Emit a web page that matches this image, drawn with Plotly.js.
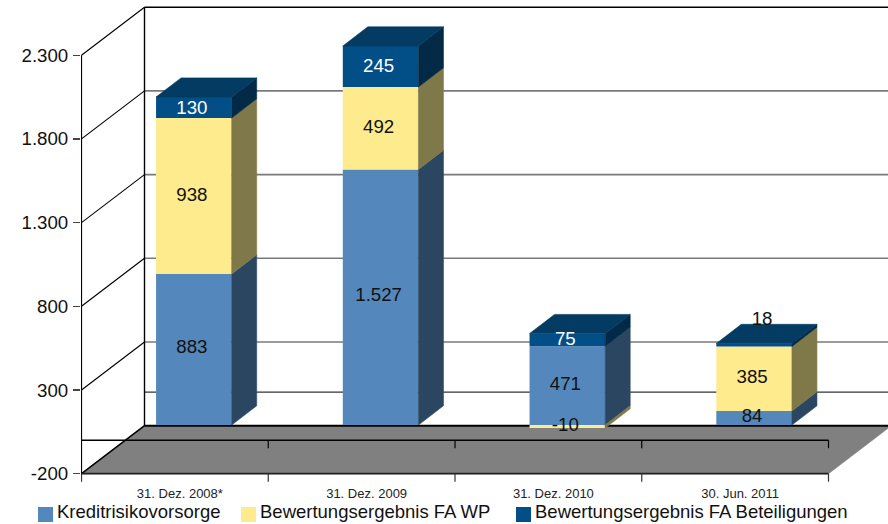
<!DOCTYPE html>
<html>
<head>
<meta charset="utf-8">
<script src="https://cdn.plot.ly/plotly-3.0.1.min.js"></script>
<style>html,body{margin:0;padding:0;background:#fff}#c{width:888px;height:524px}</style>
</head>
<body>
<div id="c"></div>
<script>
// ---- data ----
const categories = ["31. Dez. 2008*", "31. Dez. 2009", "31. Dez. 2010", "30. Jun. 2011"];
const kreditrisikovorsorge = [883, 1527, 471, 84];
const bewertungFaWp = [938, 492, -10, 385];
const bewertungFaBeteiligungen = [130, 245, 75, 18];
const yTickVals = [-200, 300, 800, 1300, 1800, 2300];
const yTickText = ["-200", "300", "800", "1.300", "1.800", "2.300"];
const seriesNames = ["Kreditrisikovorsorge", "Bewertungsergebnis FA WP", "Bewertungsergebnis FA Beteiligungen"];
const seriesValues = [kreditrisikovorsorge, bewertungFaWp, bewertungFaBeteiligungen];
// The reference draws a few bars slightly off their printed values; these are the measured differences.
const drawnDifference = [[19, 0, 0, 0], [-6, 0, -8, 0], [-5, 0, 0, 0]];
const drawnValues = seriesValues.map((vals, s) => vals.map((v, i) => v + drawnDifference[s][i]));
const labelFmt = v => String(v).replace(/^(-?\d)(\d{3})$/, "$1.$2");

// ---- styles ----
const frontColors = ["#5488bc", "#feeb8d", "#024f87"];
const sideColors = ["#2b4661", "#7f7849", "#022a47"];
const topColor = "#043b63";
const labelColors = ["#111", "#111", "#fff"];
const font = "Liberation Sans, Arial, sans-serif";

// ---- scale and oblique projection ----
const catPx = 186.75, valPx = 0.1674;
const pxX = p => -0.5 + (p - 81.5) / catPx;
const pxY = p => -200 + (473.7 - p) / valPx;
const wallDX = 63 / catPx, wallDY = 48 / valPx;
const barShiftX = 19.0 / catPx, barShiftY = 15.2 / valPx;
const barDX = 25 / catPx, barDY = 19.2 / valPx, barW = 0.405;
const xr = [pxX(81), pxX(888)], yr = [pxY(484), pxY(5)];
const px = p => (p - 81) / 807, py = p => (484 - p) / 479;

const traces = [];
const poly = (xs, ys, color, extra) => traces.push(Object.assign({
  type: "scatter", mode: "lines", x: xs, y: ys, fill: "toself", fillcolor: color,
  line: {width: 0.6, color: color}, hoverinfo: "skip", showlegend: false
}, extra || {}));
const line = (xs, ys, color, w) => traces.push({
  type: "scatter", mode: "lines", x: xs, y: ys, line: {color: color, width: w},
  hoverinfo: "skip", showlegend: false
});

// floor
const fl = -0.5, fr = categories.length - 0.5, yMin = yTickVals[0], yMax = yTickVals[yTickVals.length - 1];
poly([fl, fl + wallDX, fr + wallDX, fr, fl], [yMin, yMin + wallDY, yMin + wallDY, yMin, yMin], "#808080");
// back wall grid
yTickVals.slice(1, -1).forEach(v => line([fl + wallDX, xr[1]], [v + wallDY, v + wallDY], "#7a7a7a", 1.6));
line([fl + wallDX, xr[1]], [yMax + wallDY, yMax + wallDY], "#000", 1.5);
line([fl + wallDX, xr[1]], [wallDY, wallDY], "#333", 1.2);
// side wall
yTickVals.slice(1).forEach(v => line([fl, fl + wallDX], [v, v + wallDY], "#000", 1.1));
line([fl, fl + wallDX], [yMin, yMin + wallDY], "#000", 1.5);
line([fl, fl], [yMin, yMax], "#000", 1.2);
line([fl + wallDX, fl + wallDX], [yMin + wallDY, yMax + wallDY], "#000", 1.4);
// floor edges
line([fl + wallDX, xr[1]], [yMin + wallDY, yMin + wallDY], "#000", 2);
line([fl, fr], [yMin, yMin], "#222", 1.8);
line([fl, fr], [0, 0], "#000", 1.4);
// category boundary ticks
for (let i = 0; i <= categories.length; i++) {
  const b = i - 0.5;
  if (i > 0) line([b, b], [0, -8 / valPx], "#000", 1.2);
  line([b, b], [yMin, yMin - 8 / valPx], "#333", 1.2);
}

// stacked front faces (bars) on the shifted overlay axes
const over = {xaxis: "x2", yaxis: "y2"};
drawnValues.forEach((vals, s) => traces.push(Object.assign({
  type: "bar", x: categories.map((c, i) => i), y: vals, width: barW, name: seriesNames[s],
  marker: {color: frontColors[s], line: {width: 0}}, showlegend: false
}, over)));

// side and top faces, derived from the stack
const pos = categories.map(() => 0), neg = categories.map(() => 0);
const mids = seriesValues.map(() => []);
drawnValues.forEach((vals, s) => {
  vals.forEach((v, i) => {
    const lo = v >= 0 ? pos[i] : neg[i] + v, hi = lo + Math.abs(v);
    if (v >= 0) pos[i] = hi; else neg[i] = lo;
    mids[s][i] = (lo + hi) / 2;
    const x1 = i + barW / 2;
    poly([x1, x1 + barDX, x1 + barDX, x1, x1], [lo, lo + barDY, hi + barDY, hi, lo], sideColors[s], over);
  });
});
categories.forEach((c, i) => {
  const x0 = i - barW / 2, x1 = i + barW / 2, t = pos[i];
  poly([x0, x0 + barDX, x1 + barDX, x1, x0], [t, t + barDY, t + barDY, t, t], topColor, over);
});

// value labels
const labelShift = -2 / catPx;
const labelNudge = [[7, 8, 0, 6], [0, 0, 2, 0], [-12, -6, 0, 149]];
const labelNudgeX = [[0, 0, 0, 0], [0, 0, 0, 0], [0, 0, 0, 10 / catPx]];
seriesValues.forEach((vals, s) => {
  traces.push(Object.assign({
    type: "scatter", mode: "text",
    x: vals.map((v, i) => i + labelShift + labelNudgeX[s][i]),
    y: vals.map((v, i) => mids[s][i] + labelNudge[s][i]),
    text: vals.map(labelFmt), textposition: "middle center",
    textfont: {family: font, size: 18.7, color: vals.map((v, i) => (s === 2 && i === 3) ? "#111" : labelColors[s])},
    hoverinfo: "skip", showlegend: false
  }, over));
});

// legend row
const legendSwatchX = [38, 241, 516], legendTextX = [55, 258, 533];
const shapes = seriesNames.map((n, s) => ({
  type: "rect", xref: "paper", yref: "paper", layer: "above",
  x0: px(legendSwatchX[s]), x1: px(legendSwatchX[s] + 15), y0: py(522), y1: py(507),
  fillcolor: frontColors[s], line: {width: 0}
}));
const annotations = seriesNames.map((n, s) => ({
  text: n, xref: "paper", yref: "paper", x: px(legendTextX[s]), y: py(511.5),
  xanchor: "left", yanchor: "middle", showarrow: false,
  font: {family: font, size: 18.5, color: "#111"}
}));

const layout = {
  width: 888, height: 524, margin: {l: 81, r: 0, t: 5, b: 40, autoexpand: false},
  paper_bgcolor: "#fff", plot_bgcolor: "rgba(0,0,0,0)",
  barmode: "relative", showlegend: false, hovermode: false,
  font: {family: font, color: "#111"},
  xaxis: {
    range: xr, showgrid: false, zeroline: false, showline: false, ticks: "",
    tickmode: "array", tickvals: categories.map((c, i) => i + 5 / catPx), ticktext: categories,
    tickfont: {family: font, size: 13, color: "#222"}, tickangle: 0
  },
  yaxis: {
    range: yr, showgrid: false, zeroline: false, showline: false, ticks: "outside",
    ticklen: 7, tickwidth: 1.2, tickcolor: "#444", ticklabelstandoff: 1,
    tickmode: "array", tickvals: yTickVals, ticktext: yTickText,
    tickfont: {family: font, size: 18.7, color: "#111"}
  },
  xaxis2: {overlaying: "x", range: [xr[0] - barShiftX, xr[1] - barShiftX], visible: false},
  yaxis2: {overlaying: "y", range: [yr[0] - barShiftY, yr[1] - barShiftY], visible: false},
  shapes: shapes, annotations: annotations
};
Plotly.newPlot("c", traces, layout, {displayModeBar: false, staticPlot: true});
</script>
</body>
</html>
